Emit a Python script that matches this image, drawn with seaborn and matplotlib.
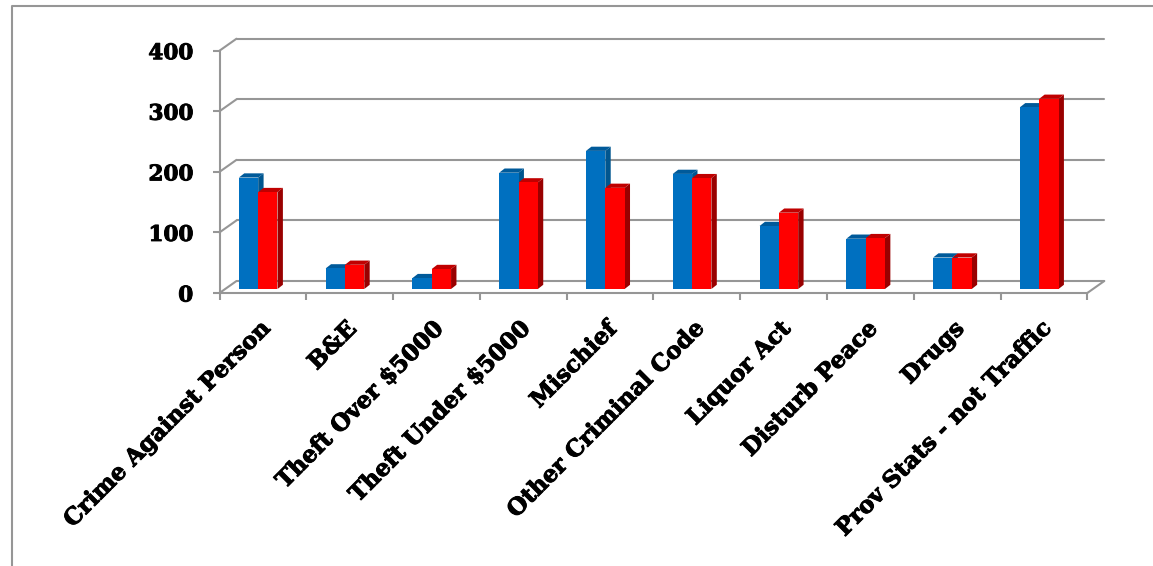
import matplotlib
matplotlib.use("Agg")
import matplotlib.pyplot as plt
import matplotlib.patheffects as pe
from matplotlib.lines import Line2D
from matplotlib.patches import Polygon
import pandas as pd
import seaborn as sns

# Values
categories = ["Crime Against Person", "B&E", "Theft Over $5000", "Theft Under $5000",
              "Mischief", "Other Criminal Code", "Liquor Act", "Disturb Peace",
              "Drugs", "Prov Stats - not Traffic"]
blue_values = [184, 34, 18, 192, 228, 190, 104, 83, 52, 300]
red_values = [160, 40, 33, 176, 167, 183, 126, 84, 52, 314]
y_ticks = [0, 100, 200, 300, 400]

W, H = 1153, 566
sns.set_theme(style="white")
plt.rcParams["font.family"] = ["DejaVu Serif"]
plt.rcParams["font.weight"] = "bold"

GREY = "#969696"
heavy = [pe.withStroke(linewidth=0.7, foreground="black")]

fig = plt.figure(figsize=(W / 100, H / 100), dpi=100)
ax = fig.add_axes([219.5 / W, (H - 293) / H, 867.8 / W, 242.3 / H])

df = pd.DataFrame({
    "category": categories * 2,
    "value": blue_values + red_values,
    "series": ["a"] * len(categories) + ["b"] * len(categories),
})
sns.barplot(data=df, x="category", y="value", hue="series", palette=["#0070C0", "#FF0000"],
            width=0.445, gap=0, saturation=1, legend=False, ax=ax, zorder=4)

ax.set_xlim(-0.5, 9.5)
ax.set_ylim(0, 400)
px_x = 10 / 867.8      # data units for a pixel, x axis
px_y = 400 / 242.3     # and for y

# back wall and the slanted lines going to it
wall_x = 17 / 867.8
wall_y = 12 * px_y
trans = ax.get_yaxis_transform()
for v in y_ticks:
    ax.add_line(Line2D([wall_x, 1 + wall_x], [v + wall_y, v + wall_y], transform=trans,
                       color=GREY, lw=1.5, clip_on=False, zorder=1))
    ax.add_line(Line2D([0, wall_x], [v, v + wall_y], transform=trans,
                       color=GREY, lw=1.5, clip_on=False, zorder=1))
ax.add_line(Line2D([1, 1 + wall_x], [0, wall_y], transform=trans,
                   color=GREY, lw=1.5, clip_on=False, zorder=1))

# sides and tops of the bars
shades = {"#0070C0": ("#00568F", "#005A9A"), "#FF0000": ("#990000", "#C00000")}
for bar, base in zip(list(ax.patches), ["#0070C0"] * 10 + ["#FF0000"] * 10):
    bar.set_x(bar.get_x() - 4.7 * px_x)
    bar.set_y(4 * px_y)
    bar.set_edgecolor("none")
    bar.set_linewidth(0)
    x0 = bar.get_x()
    x1 = x0 + bar.get_width()
    y0 = bar.get_y()
    y1 = y0 + bar.get_height()
    dx = 5.4 * px_x
    dy = 4.2 * px_y
    side, top = shades[base]
    order = 3 if base == "#0070C0" else 5
    bar.set_zorder(order + 0.5)
    ax.add_patch(Polygon([(x1, y0), (x1 + dx, y0 + dy), (x1 + dx, y1 + dy), (x1, y1)],
                         fc=side, ec="none", zorder=order, clip_on=False))
    ax.add_patch(Polygon([(x0, y1), (x0 + dx, y1 + dy), (x1 + dx, y1 + dy), (x1, y1)],
                         fc=top, ec="none", zorder=order, clip_on=False))

sns.despine(ax=ax)
ax.spines["left"].set_color(GREY)
ax.spines["bottom"].set_color(GREY)
ax.spines["left"].set_linewidth(1.5)
ax.spines["bottom"].set_linewidth(1.5)
ax.set_xlabel("")
ax.set_ylabel("")
ax.set_yticks(y_ticks)
ax.set_xticks([i - 0.5 for i in range(11)])
ax.set_xticklabels([])
ax.tick_params(axis="both", length=5, width=1.5, color=GREY, left=True, bottom=True)
ax.tick_params(axis="y", labelsize=15.5, labelcolor="black", pad=14)
for label in ax.get_yticklabels():
    label.set_path_effects(heavy)

for i, name in enumerate(categories):
    ax.annotate(name, (i, 0), xycoords=ax.get_xaxis_transform(), xytext=(-3, -18),
                textcoords="offset points", rotation=45, rotation_mode="anchor",
                ha="right", va="top", fontsize=16.6, fontweight="bold", color="black",
                annotation_clip=False, path_effects=heavy)

# outer frame of the pasted chart
fig.add_artist(Line2D([11.5 / W, 11.5 / W, 1],
                      [0, 1 - 6 / H, 1 - 6 / H], color=GREY, lw=1.5))

fig.savefig("out.png", dpi=100)
